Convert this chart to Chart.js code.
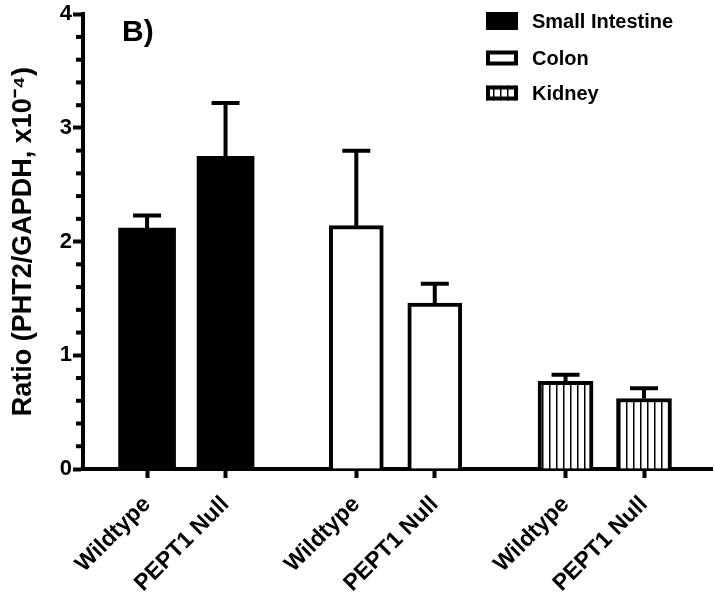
<!DOCTYPE html>
<html>
<head>
<meta charset="utf-8">
<script src="https://cdn.jsdelivr.net/npm/chart.js@4"></script>
<style>
  body { margin: 0; background: #fff; }
  #wrap { width: 715px; height: 596px; }
</style>
</head>
<body>
<div id="wrap"><canvas id="pht2Chart" width="715" height="596"></canvas></div>
<script>
// data
const tissues = ["Small Intestine", "Colon", "Kidney"];
const genotypes = ["Wildtype", "PEPT1 Null"];
const smallIntestineMeans = [2.12, 2.75];
const smallIntestineErrors = [0.11, 0.47];
const colonMeans = [2.14, 1.46];
const colonErrors = [0.66, 0.17];
const kidneyMeans = [0.77, 0.62];
const kidneyErrors = [0.06, 0.09];
const yTickValues = [0, 1, 2, 3, 4];

const FONT = "'Liberation Sans', Arial, sans-serif";
const groupStep = 8, memberStep = 3;

const barPositions = [];
tissues.forEach((t, g) => genotypes.forEach((gt, i) => barPositions.push(g * groupStep + i * memberStep)));

const toPoints = (means, g) => means.map((m, i) => ({ x: g * groupStep + i * memberStep, y: m }));

// vertical stripe fill for kidney
const makeStripes = (ctx) => {
    let c = document.createElement("canvas");
    c.width = 7; c.height = 10;
    let p = c.getContext("2d");
    p.fillStyle = "#fff";
    p.fillRect(0, 0, 7, 10);
    p.fillStyle = "#000";
    p.fillRect(3, 0, 1.5, 10);
    return ctx.createPattern(c, "repeat");
};

const errorBars = {
    id: "errorBars",
    afterDatasetsDraw(chart) {
        const ctx = chart.ctx;
        const yScale = chart.scales.y;
        ctx.save();
        ctx.strokeStyle = "#000";
        ctx.lineWidth = 4;
        chart.data.datasets.forEach((ds, di) => {
            chart.getDatasetMeta(di).data.forEach((bar, i) => {
                let top = yScale.getPixelForValue(ds.data[i].y + ds.errors[i]);
                ctx.beginPath();
                ctx.moveTo(bar.x, bar.y);
                ctx.lineTo(bar.x, top);
                ctx.moveTo(bar.x - 14, top);
                ctx.lineTo(bar.x + 14, top);
                ctx.stroke();
            });
        });
        ctx.restore();
    }
};

const minorTicks = {
    id: "minorTicks",
    afterDraw(chart) {
        const ctx = chart.ctx;
        const yScale = chart.scales.y;
        const x0 = chart.chartArea.left;
        ctx.save();
        ctx.strokeStyle = "#000";
        ctx.lineWidth = 4;
        for (let k = 0; k <= 20; k++) {
            if (k % 5 === 0) continue;
            let py = yScale.getPixelForValue(k / 5);
            ctx.beginPath();
            ctx.moveTo(x0 - 7, py);
            ctx.lineTo(x0, py);
            ctx.stroke();
        }
        ctx.restore();
    }
};

const panelAndLegend = {
    id: "panelAndLegend",
    afterDraw(chart) {
        const ctx = chart.ctx;
        const area = chart.chartArea;
        ctx.save();
        ctx.fillStyle = "#000";
        ctx.font = "bold 30px " + FONT;
        ctx.textBaseline = "alphabetic";
        ctx.fillText("B)", area.left + 39, area.top + 27);

        const bx = area.right - 226, tx = bx + 46;
        const rows = [21, 58, 93];
        ctx.font = "bold 20px " + FONT;
        ctx.textBaseline = "middle";
        chart.data.datasets.forEach((ds, i) => {
            let cy = rows[i];
            let h = i === 0 ? 18 : 15;
            ctx.fillStyle = ds.backgroundColor;
            ctx.fillRect(bx, cy - h / 2, 32, h);
            if (ds.borderWidth) {
                ctx.strokeStyle = "#000";
                ctx.lineWidth = 4;
                ctx.strokeRect(bx + 2, cy - h / 2 + 2, 28, h - 4);
            }
            ctx.fillStyle = "#000";
            ctx.fillText(ds.label, tx, cy + 1);
        });
        ctx.restore();
    }
};

const canvasObject = document.getElementById("pht2Chart");
const stripes = makeStripes(canvasObject.getContext("2d"));

new Chart(canvasObject, {
    type: "bar",
    data: {
        datasets: [
            {
                label: tissues[0],
                data: toPoints(smallIntestineMeans, 0),
                errors: smallIntestineErrors,
                backgroundColor: "#000",
                borderWidth: 0,
                barThickness: 57,
            },
            {
                label: tissues[1],
                data: toPoints(colonMeans, 1),
                errors: colonErrors,
                backgroundColor: "#fff",
                borderColor: "#000",
                borderWidth: 4,
                barThickness: 54,
            },
            {
                label: tissues[2],
                data: toPoints(kidneyMeans, 2),
                errors: kidneyErrors,
                backgroundColor: stripes,
                borderColor: "#000",
                borderWidth: 4,
                barThickness: 55,
            }
        ]
    },
    options: {
        responsive: false,
        animation: false,
        grouped: false,
        layout: { padding: { top: 0, right: 3 } },
        scales: {
            x: {
                type: "linear",
                min: -2.45,
                max: 21.6,
                offset: false,
                afterBuildTicks: (scale) => {
                    scale.ticks = barPositions.map(v => ({ value: v }));
                },
                afterFit: (scale) => { scale.height = 127; },
                border: { display: true, width: 4, color: "#000" },
                grid: { offset: false, drawOnChartArea: false, drawTicks: true, tickLength: 9, tickWidth: 4, tickColor: "#000" },
                ticks: {
                    autoSkip: false,
                    minRotation: 45,
                    maxRotation: 45,
                    color: "#000",
                    padding: 13,
                    font: { family: FONT, size: 23, weight: "bold" },
                    callback: (v) => genotypes[barPositions.indexOf(v) % 2]
                }
            },
            y: {
                min: 0,
                max: 4,
                afterBuildTicks: (scale) => {
                    scale.ticks = yTickValues.map(v => ({ value: v }));
                },
                afterFit: (scale) => { scale.width = 83; },
                border: { display: true, width: 4, color: "#000" },
                grid: { drawOnChartArea: false, drawTicks: true, tickLength: 10, tickWidth: 4, tickColor: "#000" },
                ticks: {
                    color: "#000",
                    padding: 1,
                    font: { family: FONT, size: 22, weight: "bold" }
                },
                title: {
                    display: true,
                    text: "Ratio (PHT2/GAPDH, x10\u207B\u2074)",
                    color: "#000",
                    padding: { top: 7, bottom: 0 },
                    font: { family: FONT, size: 27, weight: "bold" }
                }
            }
        },
        plugins: {
            legend: { display: false },
            tooltip: { enabled: false }
        }
    },
    plugins: [errorBars, minorTicks, panelAndLegend]
});
</script>
</body>
</html>
